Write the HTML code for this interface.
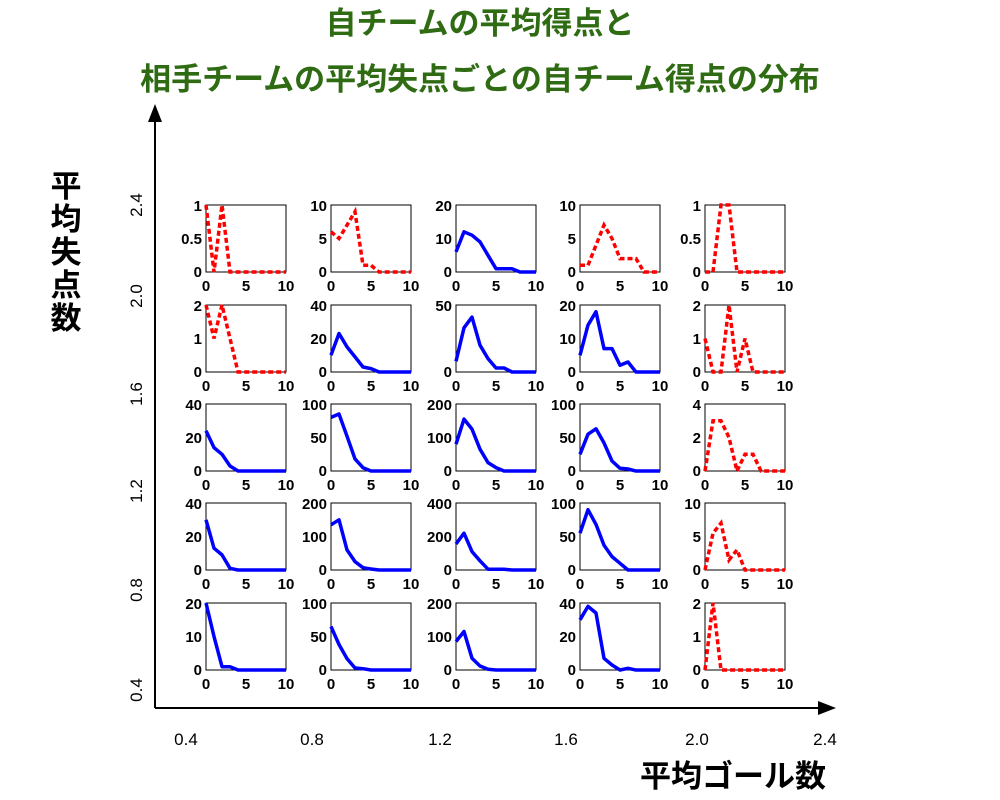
<!DOCTYPE html>
<html><head><meta charset="utf-8"><style>
body{margin:0;background:#fff}
svg{display:block}
.t{font-family:"Liberation Sans","Noto Sans CJK JP",sans-serif;font-size:15px;font-weight:bold;fill:#000}
.yl{text-anchor:end}
.xl{text-anchor:middle}
.b{fill:none;stroke:#0000ff;stroke-width:3.5;stroke-linejoin:round}
.r{fill:none;stroke:#ff0000;stroke-width:3.5;stroke-dasharray:5,3}
.box{fill:none;stroke:#000;stroke-width:1}
.ttl{font-family:"Liberation Sans","Noto Sans CJK JP",sans-serif;font-weight:bold;fill:#2e6b12;font-size:31px;text-anchor:middle}
.ax{font-family:"Liberation Sans","Noto Sans CJK JP",sans-serif;font-size:17px;fill:#000}
.big{font-family:"Liberation Sans","Noto Sans CJK JP",sans-serif;font-weight:bold;font-size:31px;fill:#000}
</style></head><body>
<svg width="1000" height="800" xmlns="http://www.w3.org/2000/svg">
<text class="ttl" x="480" y="34">自チームの平均得点と</text>
<text class="ttl" x="480" y="90">相手チームの平均失点ごとの自チーム得点の分布</text>

<line x1="155" y1="708" x2="155" y2="118" stroke="#000" stroke-width="2"/>
<polygon points="155,104 148,122 162,122" fill="#000"/>
<line x1="155" y1="708" x2="820" y2="708" stroke="#000" stroke-width="2"/>
<polygon points="836,708 818,701 818,715" fill="#000"/>

<g class="ax">
<text transform="translate(142,205) rotate(-90)" text-anchor="middle">2.4</text>
<text transform="translate(142,296) rotate(-90)" text-anchor="middle">2.0</text>
<text transform="translate(142,394) rotate(-90)" text-anchor="middle">1.6</text>
<text transform="translate(142,491) rotate(-90)" text-anchor="middle">1.2</text>
<text transform="translate(142,590) rotate(-90)" text-anchor="middle">0.8</text>
<text transform="translate(142,690) rotate(-90)" text-anchor="middle">0.4</text>
<text x="186" y="745" text-anchor="middle">0.4</text>
<text x="312" y="745" text-anchor="middle">0.8</text>
<text x="440" y="745" text-anchor="middle">1.2</text>
<text x="566" y="745" text-anchor="middle">1.6</text>
<text x="697" y="745" text-anchor="middle">2.0</text>
<text x="825" y="745" text-anchor="middle">2.4</text>
</g>
<g class="big" text-anchor="middle">
<text x="66" y="197">平</text><text x="66" y="230">均</text><text x="66" y="263">失</text><text x="66" y="296">点</text><text x="66" y="329">数</text>
</g>
<text class="big" x="733" y="787" text-anchor="middle">平均ゴール数</text>

<!-- Row 1 -->
<g transform="translate(206,205)" class="t"><rect class="box" width="80" height="67"/><text class="yl" x="-4" y="6">1</text><text class="yl" x="-4" y="39">0.5</text><text class="yl" x="-4" y="72">0</text><text class="xl" x="0" y="86">0</text><text class="xl" x="40" y="86">5</text><text class="xl" x="80" y="86">10</text><polyline class="r" points="0,0 8,67 16,0 24,67 80,67"/></g>
<g transform="translate(331,205)" class="t"><rect class="box" width="80" height="67"/><text class="yl" x="-4" y="6">10</text><text class="yl" x="-4" y="39">5</text><text class="yl" x="-4" y="72">0</text><text class="xl" x="0" y="86">0</text><text class="xl" x="40" y="86">5</text><text class="xl" x="80" y="86">10</text><polyline class="r" points="0,26.8 8,33.5 16,20.1 24,6.7 32,60.3 40,60.3 48,67 80,67"/></g>
<g transform="translate(456,205)" class="t"><rect class="box" width="80" height="67"/><text class="yl" x="-4" y="6">20</text><text class="yl" x="-4" y="39">10</text><text class="yl" x="-4" y="72">0</text><text class="xl" x="0" y="86">0</text><text class="xl" x="40" y="86">5</text><text class="xl" x="80" y="86">10</text><polyline class="b" points="0,46.9 8,26.8 16,30.2 24,36.9 32,50.3 40,63.7 48,63.7 56,63.7 64,67 80,67"/></g>
<g transform="translate(580,205)" class="t"><rect class="box" width="80" height="67"/><text class="yl" x="-4" y="6">10</text><text class="yl" x="-4" y="39">5</text><text class="yl" x="-4" y="72">0</text><text class="xl" x="0" y="86">0</text><text class="xl" x="40" y="86">5</text><text class="xl" x="80" y="86">10</text><polyline class="r" points="0,60.3 8,60.3 16,40.2 24,20.1 32,33.5 40,53.6 48,53.6 56,53.6 64,67 80,67"/></g>
<g transform="translate(705,205)" class="t"><rect class="box" width="80" height="67"/><text class="yl" x="-4" y="6">1</text><text class="yl" x="-4" y="39">0.5</text><text class="yl" x="-4" y="72">0</text><text class="xl" x="0" y="86">0</text><text class="xl" x="40" y="86">5</text><text class="xl" x="80" y="86">10</text><polyline class="r" points="0,67 8,67 16,0 24,0 32,67 80,67"/></g>

<!-- Row 2 -->
<g transform="translate(206,305)" class="t"><rect class="box" width="80" height="67"/><text class="yl" x="-4" y="6">2</text><text class="yl" x="-4" y="39">1</text><text class="yl" x="-4" y="72">0</text><text class="xl" x="0" y="86">0</text><text class="xl" x="40" y="86">5</text><text class="xl" x="80" y="86">10</text><polyline class="r" points="0,0 8,33.5 16,0 24,33.5 32,67 80,67"/></g>
<g transform="translate(331,305)" class="t"><rect class="box" width="80" height="67"/><text class="yl" x="-4" y="6">40</text><text class="yl" x="-4" y="39">20</text><text class="yl" x="-4" y="72">0</text><text class="xl" x="0" y="86">0</text><text class="xl" x="40" y="86">5</text><text class="xl" x="80" y="86">10</text><polyline class="b" points="0,50.2 8,28.5 16,41.9 24,51.9 32,62 40,63.6 48,67 80,67"/></g>
<g transform="translate(456,305)" class="t"><rect class="box" width="80" height="67"/><text class="yl" x="-4" y="6">50</text><text class="yl" x="-4" y="72">0</text><text class="xl" x="0" y="86">0</text><text class="xl" x="40" y="86">5</text><text class="xl" x="80" y="86">10</text><polyline class="b" points="0,56.3 8,22.8 16,12.1 24,40.2 32,53.6 40,63 48,63 56,67 80,67"/></g>
<g transform="translate(580,305)" class="t"><rect class="box" width="80" height="67"/><text class="yl" x="-4" y="6">20</text><text class="yl" x="-4" y="39">10</text><text class="yl" x="-4" y="72">0</text><text class="xl" x="0" y="86">0</text><text class="xl" x="40" y="86">5</text><text class="xl" x="80" y="86">10</text><polyline class="b" points="0,50.3 8,20.1 16,6.7 24,43.6 32,43.6 40,60.3 48,57 56,67 80,67"/></g>
<g transform="translate(705,305)" class="t"><rect class="box" width="80" height="67"/><text class="yl" x="-4" y="6">2</text><text class="yl" x="-4" y="39">1</text><text class="yl" x="-4" y="72">0</text><text class="xl" x="0" y="86">0</text><text class="xl" x="40" y="86">5</text><text class="xl" x="80" y="86">10</text><polyline class="r" points="0,33.5 8,67 16,67 24,0 32,67 40,33.5 48,67 80,67"/></g>

<!-- Row 3 -->
<g transform="translate(206,404)" class="t"><rect class="box" width="80" height="67"/><text class="yl" x="-4" y="6">40</text><text class="yl" x="-4" y="39">20</text><text class="yl" x="-4" y="72">0</text><text class="xl" x="0" y="86">0</text><text class="xl" x="40" y="86">5</text><text class="xl" x="80" y="86">10</text><polyline class="b" points="0,26.8 8,43.6 16,50.3 24,62 32,67 80,67"/></g>
<g transform="translate(331,404)" class="t"><rect class="box" width="80" height="67"/><text class="yl" x="-4" y="6">100</text><text class="yl" x="-4" y="39">50</text><text class="yl" x="-4" y="72">0</text><text class="xl" x="0" y="86">0</text><text class="xl" x="40" y="86">5</text><text class="xl" x="80" y="86">10</text><polyline class="b" points="0,13.4 8,10 16,32.2 24,54.9 32,63.7 40,67 80,67"/></g>
<g transform="translate(456,404)" class="t"><rect class="box" width="80" height="67"/><text class="yl" x="-4" y="6">200</text><text class="yl" x="-4" y="39">100</text><text class="yl" x="-4" y="72">0</text><text class="xl" x="0" y="86">0</text><text class="xl" x="40" y="86">5</text><text class="xl" x="80" y="86">10</text><polyline class="b" points="0,40.2 8,15.1 16,25.1 24,45.2 32,58.6 40,63.6 48,67 80,67"/></g>
<g transform="translate(580,404)" class="t"><rect class="box" width="80" height="67"/><text class="yl" x="-4" y="6">100</text><text class="yl" x="-4" y="39">50</text><text class="yl" x="-4" y="72">0</text><text class="xl" x="0" y="86">0</text><text class="xl" x="40" y="86">5</text><text class="xl" x="80" y="86">10</text><polyline class="b" points="0,50.3 8,30.2 16,24.8 24,38.9 32,57 40,64.3 48,65 56,67 80,67"/></g>
<g transform="translate(705,404)" class="t"><rect class="box" width="80" height="67"/><text class="yl" x="-4" y="6">4</text><text class="yl" x="-4" y="39">2</text><text class="yl" x="-4" y="72">0</text><text class="xl" x="0" y="86">0</text><text class="xl" x="40" y="86">5</text><text class="xl" x="80" y="86">10</text><polyline class="r" points="0,67 8,16.8 16,16.8 24,33.5 32,67 40,50.3 48,50.3 56,67 80,67"/></g>

<!-- Row 4 -->
<g transform="translate(206,503)" class="t"><rect class="box" width="80" height="67"/><text class="yl" x="-4" y="6">40</text><text class="yl" x="-4" y="39">20</text><text class="yl" x="-4" y="72">0</text><text class="xl" x="0" y="86">0</text><text class="xl" x="40" y="86">5</text><text class="xl" x="80" y="86">10</text><polyline class="b" points="0,16.8 8,45.2 16,51.9 24,65.3 32,67 80,67"/></g>
<g transform="translate(331,503)" class="t"><rect class="box" width="80" height="67"/><text class="yl" x="-4" y="6">200</text><text class="yl" x="-4" y="39">100</text><text class="yl" x="-4" y="72">0</text><text class="xl" x="0" y="86">0</text><text class="xl" x="40" y="86">5</text><text class="xl" x="80" y="86">10</text><polyline class="b" points="0,21.8 8,16.8 16,46.9 24,58.6 32,64.7 40,66 48,67 80,67"/></g>
<g transform="translate(456,503)" class="t"><rect class="box" width="80" height="67"/><text class="yl" x="-4" y="6">400</text><text class="yl" x="-4" y="39">200</text><text class="yl" x="-4" y="72">0</text><text class="xl" x="0" y="86">0</text><text class="xl" x="40" y="86">5</text><text class="xl" x="80" y="86">10</text><polyline class="b" points="0,41 8,30.2 16,48.6 24,57.8 32,66.2 40,66.2 48,66.3 56,67 80,67"/></g>
<g transform="translate(580,503)" class="t"><rect class="box" width="80" height="67"/><text class="yl" x="-4" y="6">100</text><text class="yl" x="-4" y="39">50</text><text class="yl" x="-4" y="72">0</text><text class="xl" x="0" y="86">0</text><text class="xl" x="40" y="86">5</text><text class="xl" x="80" y="86">10</text><polyline class="b" points="0,30.2 8,6.7 16,21.4 24,42.2 32,53.6 40,60.3 48,67 80,67"/></g>
<g transform="translate(705,503)" class="t"><rect class="box" width="80" height="67"/><text class="yl" x="-4" y="6">10</text><text class="yl" x="-4" y="39">5</text><text class="yl" x="-4" y="72">0</text><text class="xl" x="0" y="86">0</text><text class="xl" x="40" y="86">5</text><text class="xl" x="80" y="86">10</text><polyline class="r" points="0,67 8,30.2 16,20.1 24,57 32,46.9 40,67 80,67"/></g>

<!-- Row 5 -->
<g transform="translate(206,603)" class="t"><rect class="box" width="80" height="67"/><text class="yl" x="-4" y="6">20</text><text class="yl" x="-4" y="39">10</text><text class="yl" x="-4" y="72">0</text><text class="xl" x="0" y="86">0</text><text class="xl" x="40" y="86">5</text><text class="xl" x="80" y="86">10</text><polyline class="b" points="0,0 8,33.5 16,63.7 24,63.7 32,67 80,67"/></g>
<g transform="translate(331,603)" class="t"><rect class="box" width="80" height="67"/><text class="yl" x="-4" y="6">100</text><text class="yl" x="-4" y="39">50</text><text class="yl" x="-4" y="72">0</text><text class="xl" x="0" y="86">0</text><text class="xl" x="40" y="86">5</text><text class="xl" x="80" y="86">10</text><polyline class="b" points="0,23.5 8,41.5 16,55.6 24,65 32,65.7 40,67 80,67"/></g>
<g transform="translate(456,603)" class="t"><rect class="box" width="80" height="67"/><text class="yl" x="-4" y="6">200</text><text class="yl" x="-4" y="39">100</text><text class="yl" x="-4" y="72">0</text><text class="xl" x="0" y="86">0</text><text class="xl" x="40" y="86">5</text><text class="xl" x="80" y="86">10</text><polyline class="b" points="0,38.5 8,28.5 16,55.3 24,63 32,66.3 40,67 80,67"/></g>
<g transform="translate(580,603)" class="t"><rect class="box" width="80" height="67"/><text class="yl" x="-4" y="6">40</text><text class="yl" x="-4" y="39">20</text><text class="yl" x="-4" y="72">0</text><text class="xl" x="0" y="86">0</text><text class="xl" x="40" y="86">5</text><text class="xl" x="80" y="86">10</text><polyline class="b" points="0,16.8 8,3.4 16,10 24,55.3 32,62 40,67 48,65.3 56,67 80,67"/></g>
<g transform="translate(705,603)" class="t"><rect class="box" width="80" height="67"/><text class="yl" x="-4" y="6">2</text><text class="yl" x="-4" y="39">1</text><text class="yl" x="-4" y="72">0</text><text class="xl" x="0" y="86">0</text><text class="xl" x="40" y="86">5</text><text class="xl" x="80" y="86">10</text><polyline class="r" points="0,67 8,0 16,67 80,67"/></g>
</svg>
</body></html>
